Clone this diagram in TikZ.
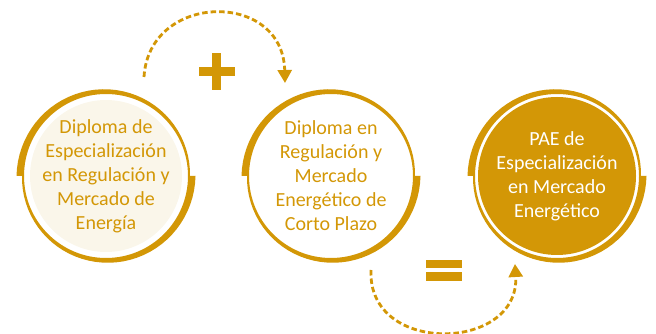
\documentclass[tikz,border=0pt]{standalone}
\usepackage{fontspec}
\setmainfont{Carlito}
\usetikzlibrary{arrows.meta}
\definecolor{gold}{RGB}{211,151,6}
\definecolor{cream}{RGB}{250,246,234}

\begin{document}
\begin{tikzpicture}[
  x=1pt,
  y=1pt,
  disc text/.style={
    align=center,
    font=\fontsize{20}{24}\selectfont
  },
  flow arrow/.style={
    draw=gold,
    line width=2.8pt,
    dash pattern=on 5.5pt off 3pt,
    -{Triangle[length=13pt,width=14pt]}
  },
]
\useasboundingbox (0,0) rectangle (656,334);
\coordinate (c1) at (106,158);
\coordinate (c2) at (331,158);
\coordinate (c3) at (557,158);

% discs
\fill[cream] (c1) circle[radius=76];
\fill[gold] (c3) circle[radius=79];

% two tapering half rings round every disc
\foreach \c in {c1,c2,c3}{
  \begin{scope}[shift={(\c)}]
    \fill[gold] (180:82) arc[start angle=180,end angle=0,radius=82]
      -- plot[domain=0:180,samples=40] (\x:{84+5.5*\x/180}) -- cycle;
    \fill[gold] (0:82) arc[start angle=0,end angle=-180,radius=82]
      -- plot[domain=-180:0,samples=40] (\x:{84+5.5*(\x+180)/180}) -- cycle;
  \end{scope}
}

\node[disc text,text=gold] (dip1) at (c1) {Diploma de\\Especialización\\en Regulación y\\Mercado de\\Energía};
\node[disc text,text=gold] (dip2) at (c2) {Diploma en\\Regulación y\\Mercado\\Energético de\\Corto Plazo};
\node[disc text,text=white] (pae) at (c3) {PAE de\\Especialización\\en Mercado\\Energético};

% plus and equals
\fill[gold] (199,258) rectangle (235,267);
\fill[gold] (212,244) rectangle (221,281);
\fill[gold] (426,66) rectangle (462,74);
\fill[gold] (426,53) rectangle (462,62);

% dashed arrows
\coordinate (a1) at (144,257);
\coordinate (b1) at (285,251);
\coordinate (a2) at (371,64);
\coordinate (b2) at (515,70);
\draw[flow arrow] (a1) .. controls (149,342) and (283,344) .. (b1);
\draw[flow arrow] (a2) .. controls (367,-22) and (520,-18) .. (b2);
\end{tikzpicture}
\end{document}
